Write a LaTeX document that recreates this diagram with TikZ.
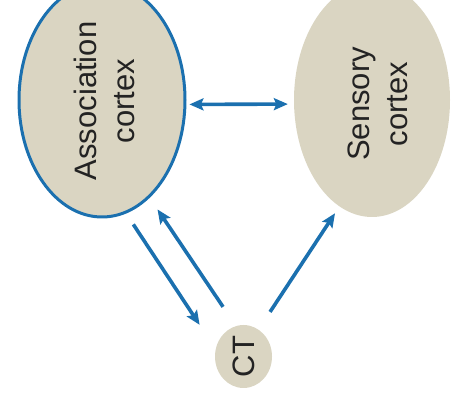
\documentclass[tikz,border=0pt]{standalone}
\usepackage{fontspec}
\setmainfont{Liberation Sans}
\usetikzlibrary{shapes.geometric}
\usetikzlibrary{arrows.meta}
\definecolor{cortexfill}{RGB}{218,213,194}
\definecolor{pathblue}{RGB}{27,112,175}
\definecolor{labelgray}{RGB}{35,35,35}

\begin{document}
\begin{tikzpicture}[x=1pt,y=1pt,
        >={Stealth[length=14pt,width=12pt,inset=2.5pt]},
        area/.style={ellipse,fill=cortexfill,inner sep=0pt},
        word/.style={text=labelgray,font=\fontsize{31}{38}\selectfont},
        link/.style={draw=pathblue,line width=3.6pt}]
        \useasboundingbox (0,0) rectangle (453,394);
        \node[area,draw=pathblue,line width=3pt,minimum width=166,minimum height=234,
            label={[word,xshift=6pt,yshift=-1pt]center:\rotatebox{90}{\begin{tabular}{@{}c@{}}Association\\cortex\end{tabular}}}] (assoc) at (102,294) {};
        \node[area,minimum width=156,minimum height=234,
            label={[word,xshift=9pt,yshift=-4pt]center:\rotatebox{90}{\begin{tabular}{@{}c@{}}Sensory\\cortex\end{tabular}}}] (sensory) at (372,294) {};
        \node[area,word,minimum width=57,minimum height=63] (ct) at (243.5,37.5) {\rotatebox{90}{CT}};
        \draw[link,<->,shorten <=3pt,shorten >=6pt] (assoc.-3) -- (sensory.183);
        \foreach \from/\fa/\to/\ta/\gapa/\gapb in {assoc/-78/ct/165/13pt/29pt,ct/104/assoc/-64/23pt/14pt,ct/61/sensory/253/21pt/8pt}{
            \draw[link,->,shorten <=\gapa,shorten >=\gapb] (\from.\fa) -- (\to.\ta);
        };
    \end{tikzpicture}
\end{document}
